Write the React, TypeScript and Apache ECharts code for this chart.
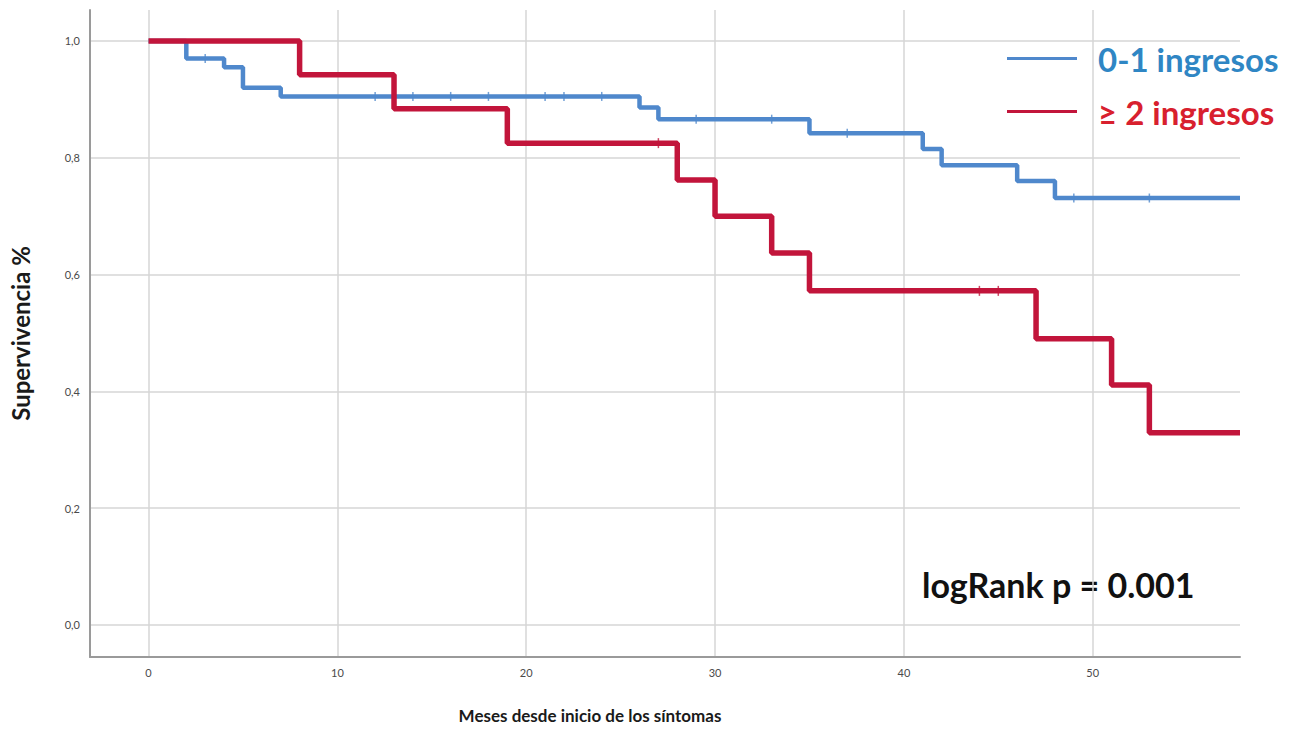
import React, { useEffect, useRef } from "react";
import * as echarts from "echarts";

// Kaplan-Meier steps: [month, survival after event]
const blueSteps: [number, number][] = [
  [0, 1.0], [2, 0.97], [4, 0.955], [5, 0.92], [7, 0.905], [26, 0.886],
  [27, 0.866], [35, 0.842], [41, 0.815], [42, 0.787], [46, 0.76], [48, 0.731], [57.8, 0.731],
];
const redSteps: [number, number][] = [
  [0, 1.0], [8, 0.942], [13, 0.884], [19, 0.825], [28, 0.762], [30, 0.7],
  [33, 0.637], [35, 0.572], [47, 0.49], [51, 0.411], [53, 0.329], [57.8, 0.329],
];
const blueCensored: [number, number][] = [
  [3, 0.97], [12, 0.905], [14, 0.905], [16, 0.905], [18, 0.905], [21, 0.905],
  [22, 0.905], [24, 0.905], [29, 0.866], [33, 0.866], [37, 0.842], [49, 0.731], [53, 0.731],
];
const redCensored: [number, number][] = [[27, 0.825], [44, 0.572], [45, 0.572]];

const xTicks = [0, 10, 20, 30, 40, 50];
const yTicks = [0, 0.2, 0.4, 0.6, 0.8, 1.0];
const seriesNames = ["0-1 ingresos", "≥ 2 ingresos"];

const BLUE = "#4f88cc";
const RED = "#c2153b";
const FONT = "Lato";

export default function App() {
  const ref = useRef<HTMLDivElement>(null);
  useEffect(() => {
    if (!ref.current) return;
    const chart = echarts.init(ref.current, undefined, { renderer: "svg" });
    chart.setOption({
      animation: false,
      backgroundColor: "#ffffff",
      grid: { left: 90, right: 68, top: 10, bottom: 74 },
      xAxis: {
        type: "value",
        min: -3.1,
        max: 57.8,
        name: "Meses desde inicio de los síntomas",
        nameLocation: "middle",
        nameGap: 50,
        nameTextStyle: {
          fontFamily: FONT, fontWeight: 700, fontSize: 17, color: "#1a1a1a",
          padding: [0, 150, 0, 0],
        },
        axisLine: { show: true, onZero: false, lineStyle: { color: "#9a9a9a", width: 2 } },
        axisTick: { show: false, customValues: xTicks },
        axisLabel: { customValues: xTicks, color: "#4a4a4a", fontSize: 11, fontFamily: FONT, margin: 10 },
        splitLine: { show: true, lineStyle: { color: "#d6d6d6", width: 1.5 } },
      },
      yAxis: {
        type: "value",
        min: -0.055,
        max: 1.053,
        name: "Supervivencia %",
        nameLocation: "middle",
        nameGap: 58,
        nameTextStyle: { fontFamily: FONT, fontWeight: 700, fontSize: 24, color: "#1a1a1a" },
        axisLine: { show: true, onZero: false, lineStyle: { color: "#9a9a9a", width: 2 } },
        axisTick: { show: false, customValues: yTicks },
        axisLabel: {
          customValues: yTicks,
          color: "#4a4a4a",
          fontSize: 11,
          fontFamily: FONT,
          margin: 10,
          formatter: (v: number) => v.toFixed(1).replace(".", ","),
        },
        splitLine: { show: true, lineStyle: { color: "#d6d6d6", width: 1.5 } },
      },
      legend: {
        orient: "vertical",
        left: 1007,
        top: 42,
        padding: 0,
        itemWidth: 70,
        itemHeight: 3,
        itemGap: 20,
        data: [
          { name: seriesNames[0], icon: "rect", textStyle: { color: "#2f86c4" } },
          { name: seriesNames[1], icon: "rect", textStyle: { color: "#d8202e" } },
        ],
        textStyle: { fontFamily: FONT, fontWeight: 700, fontSize: 33, padding: [0, 0, 0, 16] },
      },
      graphic: [
        {
          type: "text",
          left: 922,
          top: 567,
          style: { text: "logRank p = 0.001", font: `700 34px '${FONT}'`, fill: "#111" },
        },
      ],
      series: [
        {
          name: seriesNames[0],
          type: "line",
          step: "end",
          data: blueSteps,
          showSymbol: false,
          lineStyle: { color: BLUE, width: 4.5 },
          itemStyle: { color: BLUE },
          z: 3,
        },
        {
          name: seriesNames[1],
          type: "line",
          step: "end",
          data: redSteps,
          showSymbol: false,
          lineStyle: { color: RED, width: 5.5 },
          itemStyle: { color: RED },
          z: 4,
        },
        {
          name: "blue-censored",
          type: "scatter",
          data: blueCensored,
          symbol: "rect",
          symbolSize: [1.5, 9],
          itemStyle: { color: BLUE },
          z: 3,
        },
        {
          name: "red-censored",
          type: "scatter",
          data: redCensored,
          symbol: "rect",
          symbolSize: [1.5, 10],
          itemStyle: { color: RED },
          z: 4,
        },
      ],
    });
    return () => chart.dispose();
  }, []);
  return (
    <div
      ref={ref}
      style={{ position: "fixed", left: 0, top: 0, width: 1308, height: 731 }}
    />
  );
}
